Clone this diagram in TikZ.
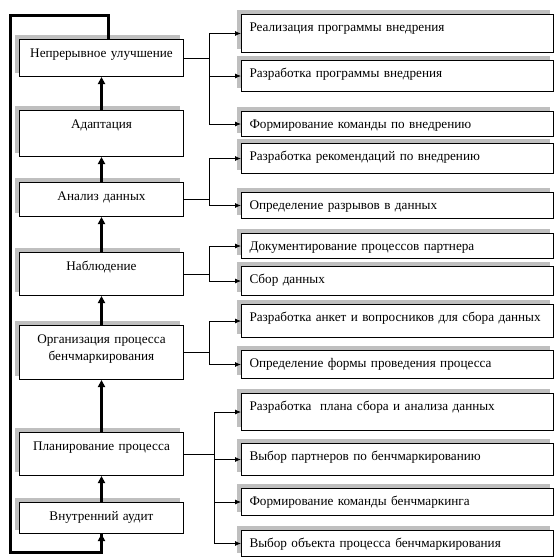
\documentclass[tikz,border=0pt]{standalone}
\usepackage{fontspec}
\setmainfont{Liberation Serif}
\usetikzlibrary{arrows.meta, backgrounds}
\tikzstyle{lbox} = [rectangle, draw=black, fill=white, line width=1pt, anchor=north west, minimum width=164, text width=150, align=center, inner xsep=7, inner ysep=0, text height=18, font=\fontsize{13.2}{17}\selectfont]
\tikzstyle{rbox} = [rectangle, draw=black, fill=white, line width=1pt, anchor=north west, minimum width=312, text width=296, align=left, inner xsep=8, inner ysep=0, text height=17, font=\fontsize{13.2}{17}\selectfont]
\tikzstyle{shade} = [fill=gray!50]
\tikzstyle{conn} = [-{Latex[length=6,width=5]}, line width=0.8pt]
\tikzstyle{uparr} = [-{Triangle[length=7,width=7]}, line width=3pt]

\begin{document}
\begin{tikzpicture}[x=1pt, y=-1pt]
  \useasboundingbox (0,0) rectangle (555,560);
  % Left column (stages, bottom to top)
  \node[lbox, text depth=19] (cont) at (19,39) {Непрерывное улучшение};
  \node[lbox, text depth=28] (adapt) at (19,110) {Адаптация};
  \node[lbox, text depth=16] (anal) at (19,182) {Анализ данных};
  \node[lbox, text depth=25] (observ) at (19,252) {Наблюдение};
  \node[lbox, text depth=36] (organ) at (19,325) {Организация процесса\\бенчмаркирования};
  \node[lbox, text depth=25] (plan) at (19,432) {Планирование процесса};
  \node[lbox, text depth=13] (audit) at (19,502) {Внутренний аудит};
  % Right column (tasks)
  \node[rbox, text depth=21] (r1) at (241,14) {Реализация программы внедрения};
  \node[rbox, text depth=14] (r2) at (241,60) {Разработка программы внедрения};
  \node[rbox, text depth=8] (r3) at (241,111) {Формирование команды по внедрению};
  \node[rbox, text depth=13] (r4) at (241,143) {Разработка рекомендаций по внедрению};
  \node[rbox, text depth=9] (r5) at (241,192) {Определение разрывов в данных};
  \node[rbox, text depth=8] (r6) at (241,233) {Документирование процессов партнера};
  \node[rbox, text depth=12] (r7) at (241,266) {Сбор данных};
  \node[rbox, text depth=16] (r8) at (241,304) {Разработка анкет и вопросников для сбора данных};
  \node[rbox, text depth=11] (r9) at (241,350) {Определение формы проведения процесса};
  \node[rbox, text depth=20] (r10) at (241,393) {Разработка~ плана сбора и анализа данных};
  \node[rbox, text depth=15] (r11) at (241,443) {Выбор партнеров по бенчмаркированию};
  \node[rbox, text depth=10] (r12) at (241,488) {Формирование команды бенчмаркинга};
  \node[rbox, text depth=9] (r13) at (241,530) {Выбор объекта процесса бенчмаркирования};
  % Shadows behind the boxes
  \begin{scope}[on background layer]
    \foreach \b in {cont,adapt,anal,observ,organ,plan,audit,r1,r2,r3,r4,r5,r6,r7,r8,r9,r10,r11,r12,r13}
      \fill[shade] ([shift={(-4,-4)}]\b.north west) rectangle ([shift={(-4,-4)}]\b.south east);
  \end{scope}
  % Upward chain
  \draw[uparr] (audit.north) -- (plan.south);
  \draw[uparr] (plan.north) -- (organ.south);
  \draw[uparr] (organ.north) -- (observ.south);
  \draw[uparr] (observ.north) -- (anal.south);
  \draw[uparr] (anal.north) -- (adapt.south);
  \draw[uparr] (adapt.north) -- (cont.south);
  % Feedback loop
  \coordinate (topleft) at (10,15);
  \coordinate (botleft) at (10,552);
  \draw[line width=3pt] ([xshift=7pt]cont.north) |- (topleft) -- (botleft) -| (audit.south);
  \draw[uparr] ([yshift=-6pt]audit.south) -- (audit.south);
  % Branches to tasks
  \draw[conn] (cont.east) -- ++(25,0) |- (r1.west);
  \draw[conn] (cont.east) -- ++(25,0) |- (r2.west);
  \draw[conn] (cont.east) -- ++(25,0) |- (r3.west);
  \draw[conn] (anal.east) -- ++(25,0) |- (r4.west);
  \draw[conn] (anal.east) -- ++(25,0) |- (r5.west);
  \draw[conn] (observ.east) -- ++(25,0) |- (r6.west);
  \draw[conn] (observ.east) -- ++(25,0) |- (r7.west);
  \draw[conn] (organ.east) -- ++(25,0) |- (r8.west);
  \draw[conn] (organ.east) -- ++(25,0) |- (r9.west);
  \draw[conn] (plan.east) -- ++(30,0) |- (r10.west);
  \draw[conn] (plan.east) -- ++(30,0) |- (r11.west);
  \draw[conn] (plan.east) -- ++(30,0) |- (r12.west);
  \draw[conn] (plan.east) -- ++(30,0) |- (r13.west);
\end{tikzpicture}
\end{document}
